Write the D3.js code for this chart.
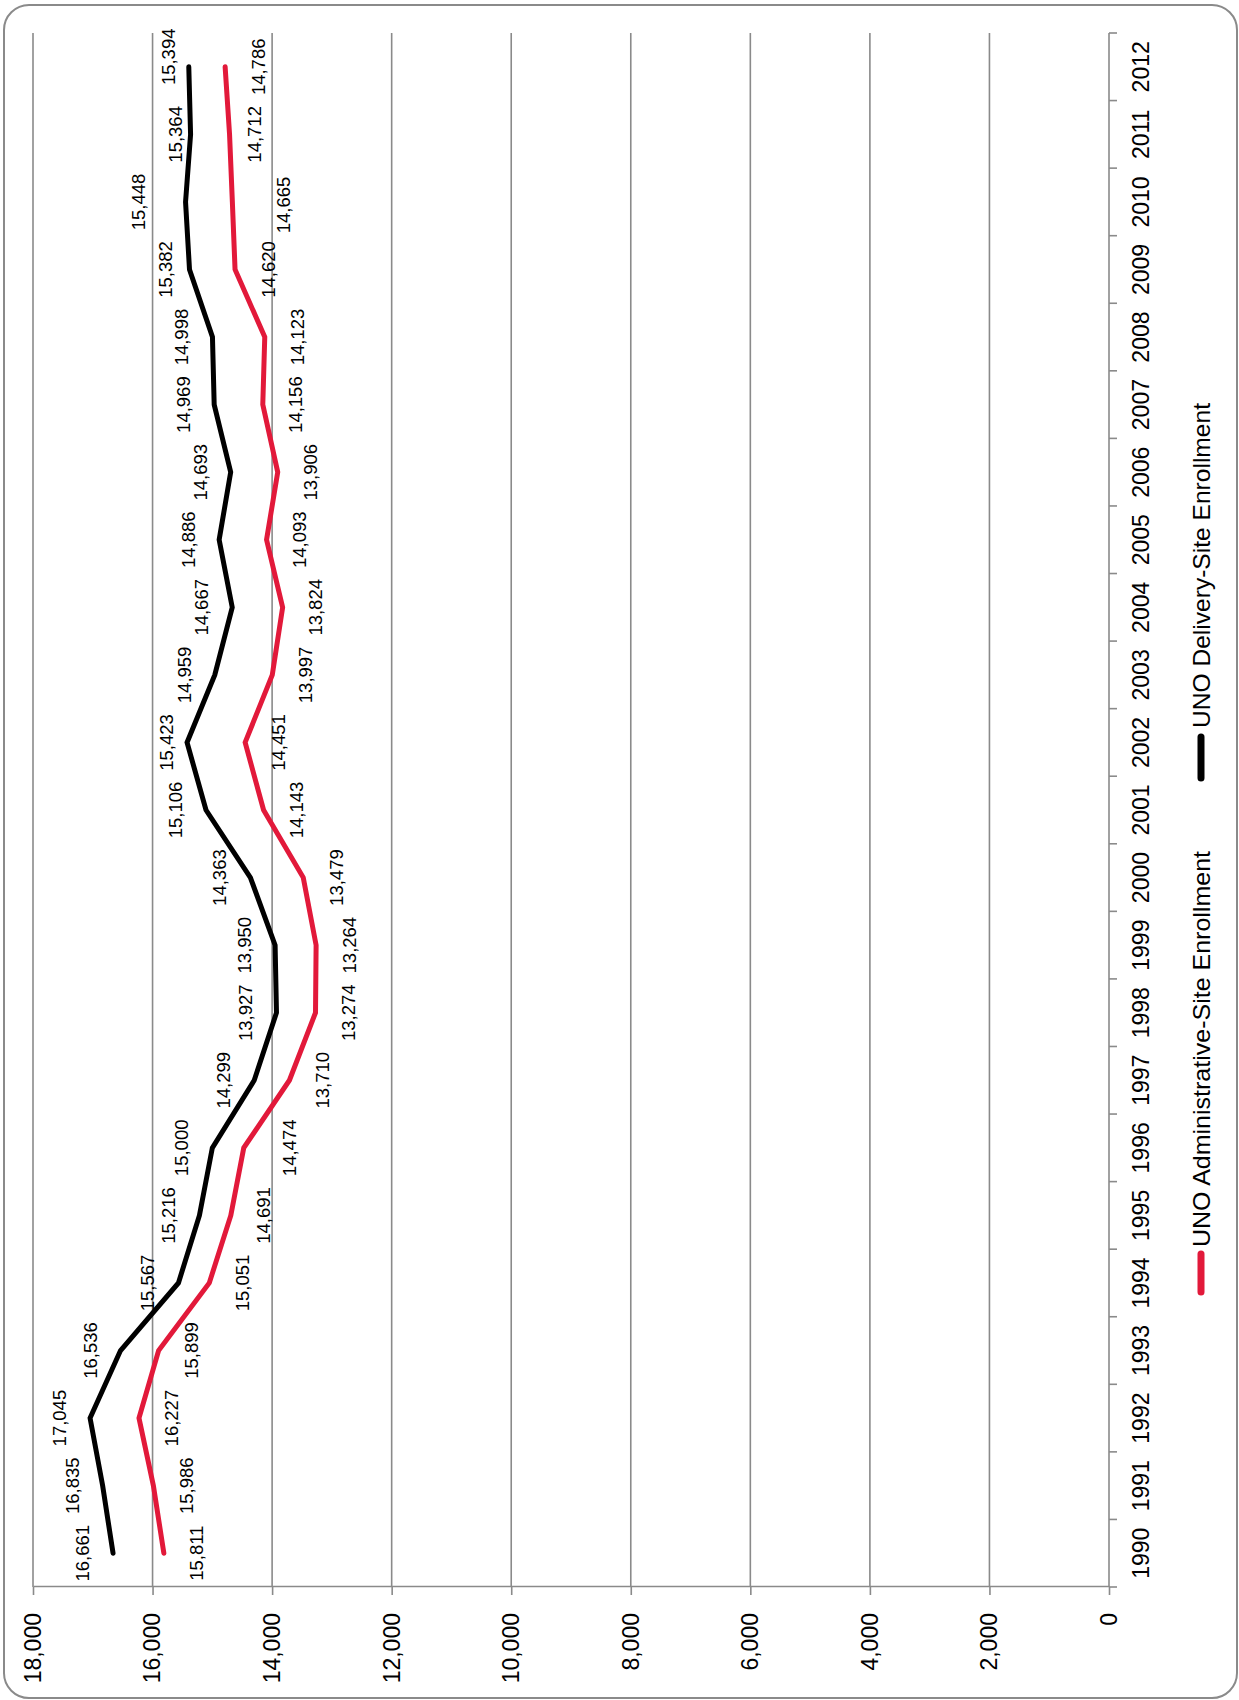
<!DOCTYPE html>
<html>
<head>
<meta charset="utf-8">
<script src="https://cdn.jsdelivr.net/npm/d3@7"></script>
<style>
  html, body { margin: 0; padding: 0; background: #ffffff; }
  svg { display: block; }
  text { font-family: "Liberation Sans", Arial, sans-serif; fill: #000; }
</style>
</head>
<body>
<svg id="chart" width="1239" height="1700"></svg>
<script>
// ---------- data ----------
const years = ["1990","1991","1992","1993","1994","1995","1996","1997","1998","1999","2000",
               "2001","2002","2003","2004","2005","2006","2007","2008","2009","2010","2011","2012"];
const deliverySite = [16661,16835,17045,16536,15567,15216,15000,14299,13927,13950,14363,
                      15106,15423,14959,14667,14886,14693,14969,14998,15382,15448,15364,15394];
const adminSite = [15811,15986,16227,15899,15051,14691,14474,13710,13274,13264,13479,
                   14143,14451,13997,13824,14093,13906,14156,14123,14620,14665,14712,14786];
const valueTicks = [0,2000,4000,6000,8000,10000,12000,14000,16000,18000];
const seriesNames = ["UNO Administrative-Site Enrollment", "UNO Delivery-Site Enrollment"];

// ---------- layout (screen-space label nudges, not data) ----------
const deliveryLabelDefault = [-30.5, 0];
const adminLabelDefault = [33, 0];
const deliveryLabelNudge = { "2012": [-20, -10], "2011": [-15, 0], "2010": [-47, 0], "2009": [-24, 0], "2002": [-20.5, 0] };
const adminLabelNudge = { "2011": [25, 0], "2010": [51, 3], "1996": [46, 0] };

const svg = d3.select("#chart");
const grey = "#8a8a8a";
const red = "#e2193a";

// chart border
svg.append("rect")
  .attr("x", 4).attr("y", 5).attr("width", 1233).attr("height", 1693)
  .attr("rx", 25).attr("ry", 25)
  .attr("fill", "#fff").attr("stroke", grey).attr("stroke-width", 2);

// Chart is drawn in an unrotated frame then rotated -90deg.
const W = 1554, H = 1076;
const g = svg.append("g").attr("transform", "translate(33,1587) rotate(-90)");

const x = d3.scaleBand().domain(years).range([0, W]).padding(0);
const y = d3.scaleLinear().domain([0, 18000]).range([H, 0]);
const cx = d => x(d) + x.bandwidth() / 2;

// gridlines
g.append("g").selectAll("line").data(valueTicks.filter(v => v > 0)).join("line")
  .attr("x1", 0).attr("x2", W)
  .attr("y1", d => y(d)).attr("y2", d => y(d))
  .attr("stroke", grey).attr("stroke-width", 1.6);

// value axis
const yAxis = g.append("g")
  .call(d3.axisLeft(y).tickValues(valueTicks).tickFormat(d3.format(",")).tickSize(8).tickSizeOuter(0).tickPadding(18));
yAxis.select(".domain").attr("stroke", grey).attr("stroke-width", 1.6);
yAxis.selectAll(".tick line").attr("stroke", grey).attr("stroke-width", 1.6);
yAxis.selectAll(".tick text").attr("font-size", 23).attr("font-family", "Liberation Sans, Arial, sans-serif").attr("fill", "#000");

// category axis
const cat = g.append("g").attr("transform", `translate(0,${H})`);
cat.append("line").attr("x1", 0).attr("x2", W).attr("y1", 0).attr("y2", 0)
  .attr("stroke", grey).attr("stroke-width", 1.6);
const boundaries = years.map(d => x(d)).concat([W]);
cat.selectAll("line.tk").data(boundaries).join("line").attr("class", "tk")
  .attr("x1", d => d).attr("x2", d => d).attr("y1", 0).attr("y2", 8)
  .attr("stroke", grey).attr("stroke-width", 1.6);
cat.selectAll("text").data(years).join("text")
  .attr("x", d => cx(d)).attr("y", 32)
  .attr("text-anchor", "middle").attr("dominant-baseline", "central")
  .attr("font-size", 23).text(d => d);

// lines
const line = d3.line().x((d, i) => cx(years[i])).y(d => y(d));
g.append("path").datum(adminSite).attr("d", line)
  .attr("fill", "none").attr("stroke", red).attr("stroke-width", 5)
  .attr("stroke-linejoin", "miter").attr("stroke-linecap", "round");
g.append("path").datum(deliverySite).attr("d", line)
  .attr("fill", "none").attr("stroke", "#000").attr("stroke-width", 5)
  .attr("stroke-linejoin", "miter").attr("stroke-linecap", "round");

// data labels (screen offset [dx,dy] -> inner frame: x -= dy, y += dx)
function drawLabels(values, def, nudge) {
  g.append("g").selectAll("text").data(values).join("text")
    .attr("x", (d, i) => { const o = nudge[years[i]] || def; return cx(years[i]) - o[1]; })
    .attr("y", (d, i) => { const o = nudge[years[i]] || def; return y(d) + o[0]; })
    .attr("text-anchor", "middle").attr("dominant-baseline", "central")
    .attr("font-size", 18.5).text(d => d3.format(",")(d));
}
drawLabels(deliverySite, deliveryLabelDefault, deliveryLabelNudge);
drawLabels(adminSite, adminLabelDefault, adminLabelNudge);

// legend
const legendY = 1168;
const legend = [
  { name: seriesNames[0], color: red, x0: 295, x1: 333, tx: 340, len: 396 },
  { name: seriesNames[1], color: "#000", x0: 809, x1: 850, tx: 859, len: 325 }
];
const lg = g.append("g").selectAll("g").data(legend).join("g");
lg.append("line").attr("x1", d => d.x0).attr("x2", d => d.x1)
  .attr("y1", legendY).attr("y2", legendY)
  .attr("stroke", d => d.color).attr("stroke-width", 7).attr("stroke-linecap", "round");
lg.append("text").attr("x", d => d.tx).attr("y", legendY)
  .attr("dominant-baseline", "central").attr("font-size", 24)
  .attr("textLength", d => d.len).attr("lengthAdjust", "spacingAndGlyphs")
  .text(d => d.name);
</script>
</body>
</html>
